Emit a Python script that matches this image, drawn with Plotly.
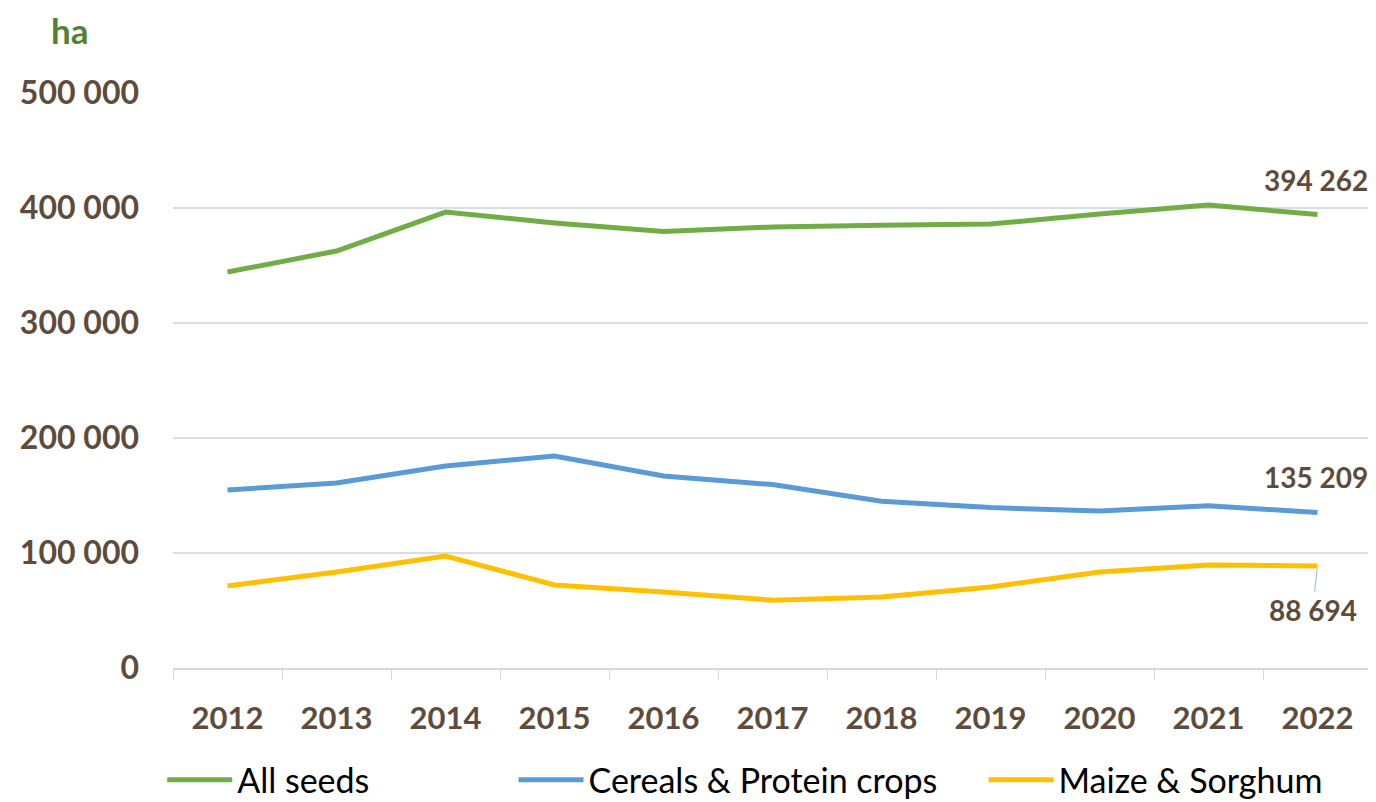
import plotly.graph_objects as go

years = ["2012", "2013", "2014", "2015", "2016", "2017", "2018", "2019", "2020", "2021", "2022"]
all_seeds = [344300, 362600, 396500, 387000, 379500, 383500, 385000, 386000, 394800, 402600, 394262]
cereals = [154800, 160900, 175700, 184300, 167000, 159500, 145000, 139500, 136500, 141000, 135209]
maize = [71300, 83500, 97400, 72200, 66000, 59000, 61700, 70400, 83500, 89600, 88694]
y_ticks = [0, 100000, 200000, 300000, 400000, 500000]
y_labels = ["0", "100 000", "200 000", "300 000", "400 000", "500 000"]

brown = "#5E4B3C"
font = "Lato"

fig = go.Figure()
fig.add_trace(go.Scatter(x=years, y=all_seeds, mode="lines", name="All seeds",
                         line=dict(color="#70AD47", width=5), legend="legend"))
fig.add_trace(go.Scatter(x=years, y=cereals, mode="lines", name="Cereals & Protein crops",
                         line=dict(color="#5B9BD5", width=5), legend="legend2"))
fig.add_trace(go.Scatter(x=years, y=maize, mode="lines", name="Maize & Sorghum",
                         line=dict(color="#FFC000", width=5), legend="legend3"))

def fmt(v):
    return "{:,}".format(v).replace(",", " ")

last = len(years) - 1  # category index of the last year
lab_font = dict(size=28, color=brown, family=font, weight="bold")
fig.add_annotation(x=last, y=all_seeds[-1], text=fmt(all_seeds[-1]), showarrow=False,
                   yshift=35, xshift=-2, font=lab_font)
fig.add_annotation(x=last, y=cereals[-1], text=fmt(cereals[-1]), showarrow=False,
                   yshift=36, xshift=-2, font=lab_font)
fig.add_annotation(x=last, y=maize[-1], text=fmt(maize[-1]), showarrow=True, arrowhead=0,
                   arrowwidth=1, arrowcolor="#A6B4C8", ax=-5, ay=44, standoff=3,
                   font=lab_font)
fig.add_annotation(xref="paper", yref="paper", x=-0.086, y=1.11, xanchor="center", yanchor="middle",
                   text="ha", showarrow=False,
                   font=dict(size=35, color="#548235", family=font, weight="bold"))

# page body has an 8px margin, so the figure is 8px smaller each way
leg = dict(orientation="h", y=-0.195, xanchor="left", yanchor="middle",
           font=dict(size=34, color="black", family=font), itemwidth=65, bgcolor="rgba(0,0,0,0)")
fig.update_layout(
    width=1368, height=794,
    margin=dict(l=165, r=4, t=85, b=134, autoexpand=False),
    paper_bgcolor="white", plot_bgcolor="white",
    font=dict(family=font, color=brown),
    showlegend=True,
    legend=dict(leg, x=-0.009),
    legend2=dict(leg, x=0.284),
    legend3=dict(leg, x=0.676),
)
fig.update_xaxes(type="category", range=[-0.5, len(years) - 0.5],
                 showgrid=False, showline=True, linecolor="#D9D9D9", linewidth=1.5,
                 ticks="outside", tickson="boundaries", ticklen=10, tickcolor="#D9D9D9",
                 tickfont=dict(size=31, color=brown, family=font, weight="bold"),
                 ticklabelstandoff=22)
fig.update_yaxes(range=[0, 500000], tickvals=y_ticks, ticktext=y_labels,
                 showgrid=True, gridcolor="#D9DEE6", gridwidth=1.5, zeroline=False,
                 tickfont=dict(size=32, color=brown, family=font, weight="bold"),
                 ticklabelstandoff=33)

fig.write_html("out.html")
